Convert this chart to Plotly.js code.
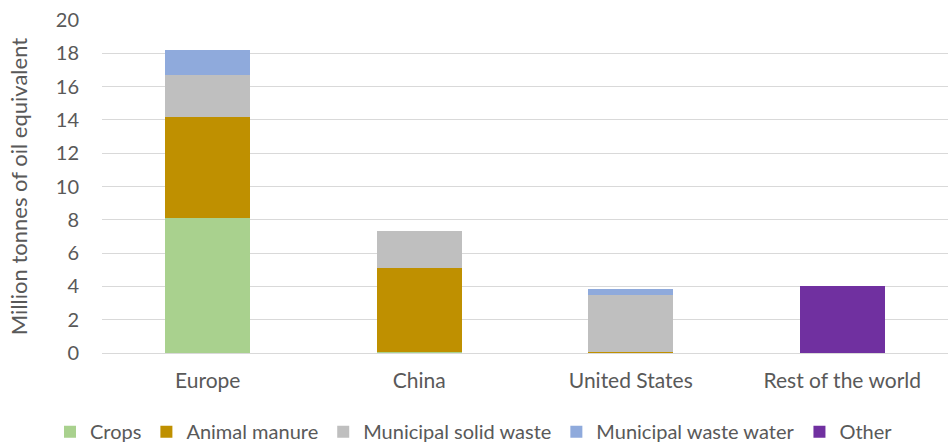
<!DOCTYPE html>
<html>
<head>
<meta charset="utf-8">
<script src="https://cdn.plot.ly/plotly-3.0.1.min.js"></script>
<style>html,body{margin:0;padding:0;background:#fff;}#chart{width:948px;height:445px;}</style>
</head>
<body>
<div id="chart"></div>
<script>
const categories = ["Europe", "China", "United States", "Rest of the world"];
const crops = [8.1, 0.05, 0.02, 0];
const animalManure = [6.1, 5.05, 0.06, 0];
const municipalSolidWaste = [2.5, 2.2, 3.4, 0];
const municipalWasteWater = [1.5, 0, 0.35, 0];
const other = [0, 0, 0, 4.0];
const yTicks = [0, 2, 4, 6, 8, 10, 12, 14, 16, 18, 20];

const series = [
  {name: "Crops", y: crops, color: "#A9D18E"},
  {name: "Animal manure", y: animalManure, color: "#BF9000"},
  {name: "Municipal solid waste", y: municipalSolidWaste, color: "#BFBFBF"},
  {name: "Municipal waste water", y: municipalWasteWater, color: "#8FAADC"},
  {name: "Other", y: other, color: "#7030A0"}
];

const traces = series.map(s => ({
  type: "bar",
  name: s.name,
  x: categories,
  y: s.y,
  marker: {color: s.color, line: {width: 0}},
  hoverinfo: "x+y+name"
}));

const font = "Lato, 'Open Sans', sans-serif";
const layout = {
  width: 948, height: 445,
  margin: {l: 102, r: 0, t: 20, b: 92},
  barmode: "stack",
  bargap: 0.6,
  paper_bgcolor: "#fff",
  plot_bgcolor: "#fff",
  font: {family: font, color: "#595959", size: 21},
  xaxis: {
    type: "category",
    showgrid: false,
    showline: true,
    linecolor: "#D9D9D9",
    linewidth: 1,
    ticks: "",
    ticklabelstandoff: 9,
    tickfont: {size: 21, color: "#595959"}
  },
  yaxis: {
    range: [0, 20],
    tickvals: yTicks,
    ticktext: yTicks.map(String),
    showgrid: true,
    gridcolor: "#D9D9D9",
    gridwidth: 1,
    zeroline: false,
    showline: false,
    ticks: "",
    ticklabelstandoff: 22,
    tickfont: {size: 20, color: "#595959"},
    title: {text: "Million tonnes of oil equivalent", font: {size: 22, color: "#595959"}, standoff: 22}
  },
  legend: {
    orientation: "h",
    x: 0.5, xref: "container", xanchor: "center",
    y: 0.03, yref: "container", yanchor: "middle",
    font: {size: 20, color: "#595959"},
    traceorder: "normal",
    itemwidth: 20,
    tracegroupgap: 0
  },
  showlegend: true
};

Plotly.newPlot("chart", traces, layout, {displayModeBar: false, staticPlot: true});
</script>
</body>
</html>
